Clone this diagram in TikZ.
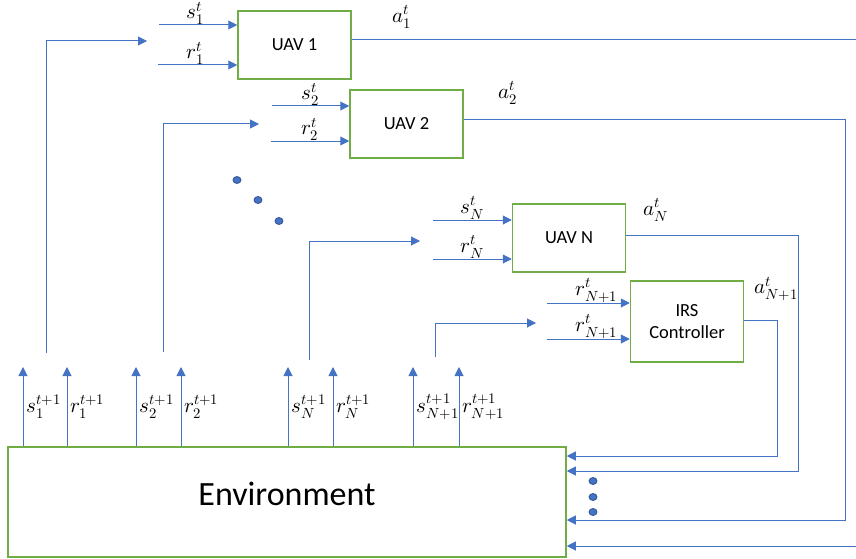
\documentclass[tikz,border=0pt]{standalone}
\usepackage{amsmath}
\usepackage{fontspec}
\usepackage{unicode-math}
\setmainfont{Carlito}
\setmathfont{Latin Modern Math}
\usetikzlibrary{arrows.meta,positioning,calc}

\definecolor{lineblue}{HTML}{4472C4}
\definecolor{boxgreen}{HTML}{70AD47}
\definecolor{dotedge}{HTML}{2F528F}

\tikzset{
  agent/.style={draw=boxgreen, line width=1.5pt, minimum width=113pt, minimum height=68pt,
    inner sep=0pt, font=\fontsize{18.5}{22}\selectfont, align=center},
  flow/.style={lineblue, line width=1pt, -{Triangle[length=9pt,width=9pt]}},
  wire/.style={lineblue, line width=1pt},
  lbl/.style={font=\fontsize{21}{24}\selectfont, text=black, inner sep=0pt},
  bead/.style={fill=lineblue, draw=dotedge, line width=0.8pt}
}

\begin{document}
\begin{tikzpicture}[x=1pt, y=-1pt, line cap=butt, line join=miter]
    \useasboundingbox (0,0) rectangle (856,559);

    % --- 1. Agents and environment ---
    \node[agent] (uav1) at (294.5,45) {UAV 1};
    \node[agent] (uav2) at (406.5,124) {UAV 2};
    \node[agent] (uavN) at (569,238) {UAV N};
    \node[agent, minimum height=81pt] (irs) at (687,321.5) {IRS\\Controller};
    \node[agent, minimum width=558pt, minimum height=110pt, align=left, text depth=16pt,
        font=\fontsize{34}{40}\selectfont] (env) at (287,502) {Environment};

    % --- 2. Local inputs s^t, r^t ---
    \coordinate (s1) at (159,25);
    \coordinate (r1) at (158,65);
    \coordinate (s2) at (272,106);
    \coordinate (r2) at (271,141);
    \coordinate (sN) at (433,220);
    \coordinate (rN) at (433,259);
    \coordinate (rA) at (547,303);
    \coordinate (rB) at (547,339);
    \foreach \from/\to/\p/\sym in {s1/uav1/.47/{s_1^t}, r1/uav1/.47/{r_1^t},
        s2/uav2/.5/{s_2^t}, r2/uav2/.5/{r_2^t},
        sN/uavN/.5/{s_N^t}, rN/uavN/.5/{r_N^t},
        rA/irs/.6/{r_{N+1}^t}, rB/irs/.6/{r_{N+1}^t}}
        \draw[flow] (\from) -- (\from -| \to.west)
            node[lbl, pos=\p, above] {$\sym$};

    % --- 3. Feedback from the environment ---
    \coordinate (fb1) at (46,353);  \coordinate (ft1) at (147,41);
    \coordinate (fb2) at (163,352); \coordinate (ft2) at (259,124);
    \coordinate (fb3) at (309,360); \coordinate (ft3) at (420,241);
    \coordinate (fb4) at (435,357); \coordinate (ft4) at (536,323);
    \foreach \i in {1,...,4}
        \draw[flow] (fb\i) |- (ft\i);

    % Next states and rewards
    \foreach \x/\sym in {23/{s_1^{t+1}}, 67/{r_1^{t+1}}, 136/{s_2^{t+1}}, 181/{r_2^{t+1}},
        288/{s_N^{t+1}}, 333/{r_N^{t+1}}, 413/{s_{N+1}^{t+1}}, 459/{r_{N+1}^{t+1}}} {
        \coordinate (tip) at (\x,367);
        \draw[flow] (tip |- env.north) -- (tip)
            node[lbl, midway, right=3pt] {$\sym$};
    }

    % --- 4. Actions a^t back to the environment ---
    \coordinate (out1) at (856,40);
    \coordinate (in1) at (856,546);
    \coordinate (in2) at (845,520);
    \coordinate (inN) at (798,471);
    \coordinate (inA) at (777,456);
    \draw[wire] ([yshift=5pt]uav1.east) -- (out1);
    \draw[flow] (in1) -- (in1 -| env.east);
    \draw[flow] ([yshift=4pt]uav2.east) -| (in2) -- (in2 -| env.east);
    \draw[flow] ([yshift=3pt]uavN.east) -| (inN) -- (inN -| env.east);
    \draw[flow] ([yshift=1.5pt]irs.east) -| (inA) -- (inA -| env.east);

    \node[lbl] (a1) at (402,17) {$a_1^t$};
    \node[lbl] (a2) at (508,93) {$a_2^t$};
    \node[lbl] (aN) at (656,210) {$a_N^t$};
    \node[lbl] (aA) at (776,289) {$a_{N+1}^t$};

    % Ellipsis dots
    \foreach \x/\y in {237/180, 258/200, 279/221, 593/481, 593/497, 593/512}
        \draw[bead] (\x,\y) ellipse (4 and 3.5);
\end{tikzpicture}
\end{document}
